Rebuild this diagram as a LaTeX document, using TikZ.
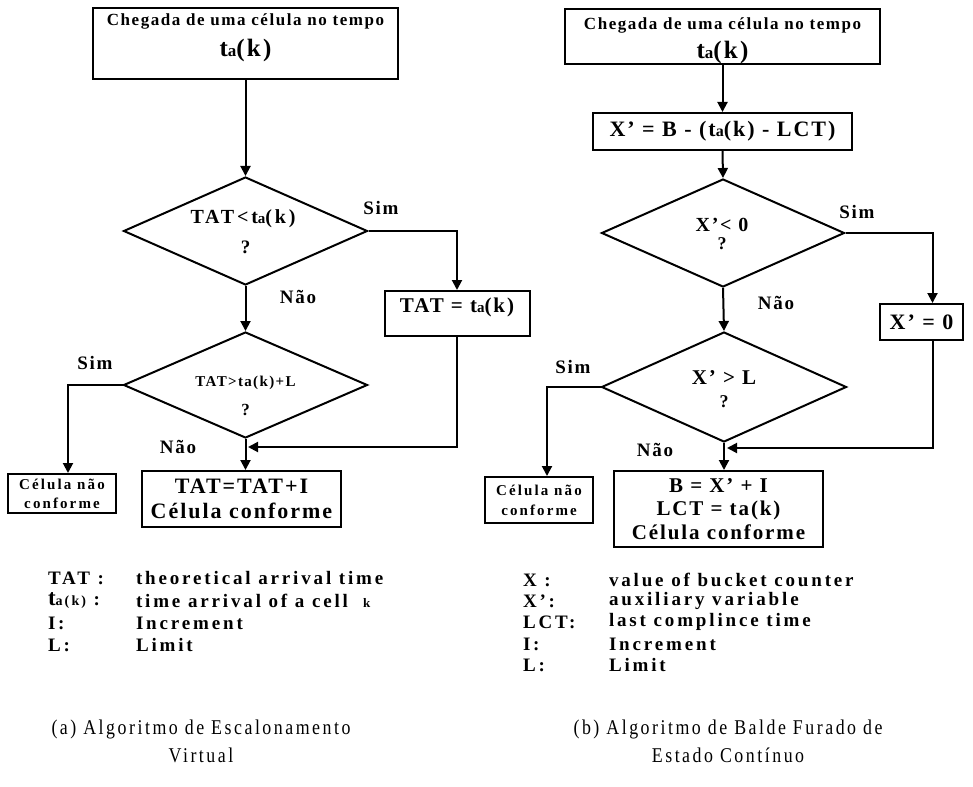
\documentclass[tikz,border=0pt]{standalone}
\usepackage{fontspec}
\setmainfont{Liberation Serif}
\newfontfamily\flowfont{Liberation Serif}[LetterSpace=9]
\newfontfamily\wideflow{Liberation Serif}[LetterSpace=14]
\newfontfamily\keyfont{Liberation Serif}[LetterSpace=15]
\newfontfamily\capfont{Liberation Serif}[LetterSpace=12,FakeStretch=0.85]
\usetikzlibrary{arrows.meta,shapes.geometric}

% t with a small "a" followed by (k)
\newcommand\tak[1]{t{\fontsize{#1}{#1}\selectfont a}(k)}

\begin{document}
\begin{tikzpicture}[x=1pt,y=-1pt,
  line width=2pt,
  box/.style={draw, rectangle, inner sep=0pt, align=center},
  decision/.style={draw, diamond, inner sep=0pt},
  flow/.style={-{Triangle[length=10pt,width=10pt]}},
  fs/.style args={#1/#2}{font=\flowfont\bfseries\fontsize{#1}{#2}\selectfont, align=center, inner sep=0pt},
  wfs/.style args={#1/#2}{font=\wideflow\bfseries\fontsize{#1}{#2}\selectfont, align=center, inner sep=0pt},
  keytxt/.style={font=\keyfont\bfseries\fontsize{19}{19}\selectfont, anchor=west, inner sep=0pt},
  captxt/.style={font=\capfont\fontsize{21}{28}\selectfont, align=center, inner sep=0pt}
]
\useasboundingbox (0,0) rectangle (973,786);

% ---------- (a) virtual scheduling ----------
\node[box, minimum width=305, minimum height=71] (a0) at (245.5,43.5) {};
\node[fs=17/17] (a0t) at (245.5,21) {Chegada de uma célula no tempo};
\node[fs=25/25] (a0k) at (245.5,50) {\tak{17}};

\node[decision, minimum width=244, minimum height=108] (d1) at (245.5,231) {};
\node[wfs=20/20] (d1t) at (243,219) {TAT<\tak{15}};
\node[fs=19/19] (d1q) at (245.5,247) {?};
\node[fs=19/19] (s1) at (381,208) {Sim};
\node[fs=19/19] (n1l) at (298,297) {Não};

\node[box, minimum width=145, minimum height=45] (b1) at (457,313.5) {};
\node[fs=21/21] (b1t) at (457,307) {TAT = \tak{15}};

\node[decision, minimum width=244, minimum height=106] (d2) at (245.5,385) {};
\node[fs=15/15] (d2t) at (245.5,383) {TAT>ta(k)+L};
\node[fs=17/17] (d2q) at (245.5,410) {?};
\node[fs=19/19] (s2) at (95,363) {Sim};
\node[fs=19/19] (n2l) at (178,447) {Não};

\node[box, wfs=15/19, minimum width=108, minimum height=39] (r1) at (62,493.5) {Célula não\\conforme};
\node[box, fs=22/25, minimum width=199, minimum height=56] (c1) at (241.5,499) {TAT=TAT+I\\Célula conforme};

\draw[flow] (a0.south) -- (d1.north);
\draw[flow] (d1.east) -| (b1.north);
\draw[flow] (d1.south) -- (d2.north);
\draw[flow] (d2.west) -| ([xshift=6pt]r1.north);
\draw[flow] (d2.south) -- (d2.south |- c1.north);
\coordinate (j1) at (248,447);
\draw[flow] (b1.south) |- (j1);

\node[keytxt] (ka1) at (47,578) {TAT :};
\node[keytxt] (kb1) at (135,578) {theoretical arrival time};
\node[keytxt] (ka2) at (47,601) {{\fontsize{23}{23}\selectfont t}{\fontsize{14}{14}\selectfont a(k)} :};
\node[keytxt] (kb2) at (135,601) {time arrival of a cell\ \ {\fontsize{13}{13}\selectfont k}};
\node[keytxt] (ka3) at (47,623) {I:};
\node[keytxt] (kb3) at (135,623) {Increment};
\node[keytxt] (ka4) at (47,645) {L:};
\node[keytxt] (kb4) at (135,645) {Limit};

\node[captxt] (capa) at (201,741) {(a) Algoritmo de Escalonamento\\Virtual};

% ---------- (b) continuous-state leaky bucket ----------
\node[box, minimum width=315, minimum height=55] (a1) at (722.5,36.5) {};
\node[fs=17/17] (a1t) at (722.5,25) {Chegada de uma célula no tempo};
\node[fs=25/25] (a1k) at (722.5,52) {\tak{17}};

\node[box, fs=22/22, minimum width=259, minimum height=37] (b2) at (722.5,131.5) {X’ = B - (\tak{16} - LCT)};

\node[decision, minimum width=243, minimum height=108] (d3) at (723,233) {};
\node[fs=20/20] (d3t) at (722,225) {X’< 0};
\node[fs=18/18] (d3q) at (722,244) {?};
\node[fs=19/19] (s3) at (857,212) {Sim};
\node[fs=19/19] (n3l) at (776,303) {Não};

\node[box, fs=22/22, minimum width=83, minimum height=36] (e1) at (921.5,322) {X’ = 0};

\node[decision, minimum width=245, minimum height=110] (d4) at (724,387) {};
\node[fs=21/21] (d4t) at (724,378) {X’ > L};
\node[fs=18/18] (d4q) at (724,402) {?};
\node[fs=19/19] (s4) at (573,367) {Sim};
\node[fs=19/19] (n4l) at (655,450) {Não};

\node[box, wfs=15/20, minimum width=108, minimum height=46] (r2) at (539,500) {Célula não\\conforme};
\node[box, fs=21/23.5, minimum width=209, minimum height=76] (c2) at (718.5,509) {B = X’ + I\\LCT = ta(k)\\Célula conforme};

\draw[flow] (a1.south) -- (b2.north);
\draw[flow] (b2.south) -- (d3.north);
\draw[flow] (d3.east) -| ([xshift=11pt]e1.north);
\draw[flow] (d3.south) -- (d4.north);
\draw[flow] (d4.west) -| ([xshift=8pt]r2.north);
\draw[flow] (d4.south) -- (d4.south |- c2.north);
\coordinate (j2) at (727,448);
\draw[flow] ([xshift=11pt]e1.south) |- (j2);

\node[keytxt] (kc1) at (522,580) {X :};
\node[keytxt] (kd1) at (608,580) {value of bucket counter};
\node[keytxt] (kc2) at (522,601) {X’:};
\node[keytxt] (kd2) at (608,601) {auxiliary variable};
\node[keytxt] (kc3) at (522,622) {LCT:};
\node[keytxt] (kd3) at (608,622) {last complince time};
\node[keytxt] (kc4) at (522,644) {I:};
\node[keytxt] (kd4) at (608,644) {Increment};
\node[keytxt] (kc5) at (522,665) {L:};
\node[keytxt] (kd5) at (608,665) {Limit};

\node[captxt] (capb) at (728,741) {(b) Algoritmo de Balde Furado de\\Estado Contínuo};
\end{tikzpicture}
\end{document}
